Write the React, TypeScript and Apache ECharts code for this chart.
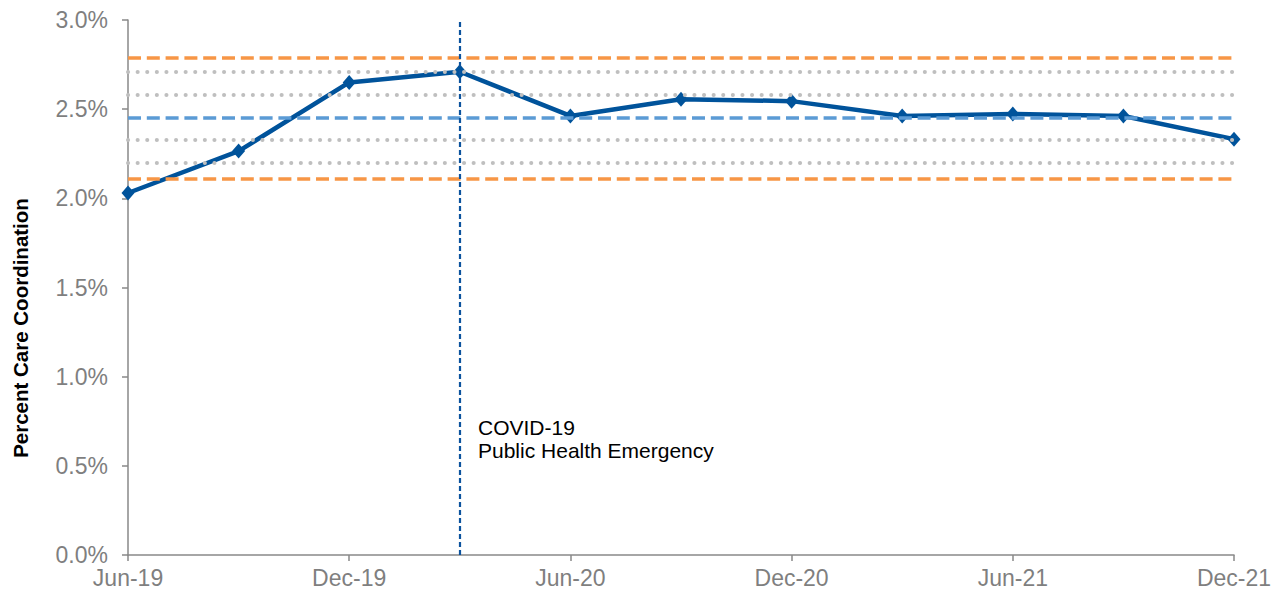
import React, { useEffect, useRef } from "react";
import * as echarts from "echarts";

const categories = ["Jun-19", "Sep-19", "Dec-19", "Mar-20", "Jun-20", "Sep-20", "Dec-20", "Mar-21", "Jun-21", "Sep-21", "Dec-21"];
const careCoordination = [2.03, 2.265, 2.65, 2.71, 2.462, 2.556, 2.545, 2.462, 2.473, 2.462, 2.332];
const controlLimits = [2.789, 2.113];
const meanLine = [2.453];
const sigmaLines = [2.709, 2.576, 2.326, 2.197];
const eventCategory = "Mar-20";
const eventLabel = "COVID-19\nPublic Health Emergency";
const yAxisName = "Percent Care Coordination";

export default function App() {
  const ref = useRef<HTMLDivElement>(null);
  useEffect(() => {
    if (!ref.current) return;
    const chart = echarts.init(ref.current, null, { renderer: "svg" });
    const font = "'Liberation Sans', Arial, sans-serif";
    const hLine = (v: number, color: string, type: any, width: number, cap: string) => ({
      yAxis: v,
      lineStyle: { color, type, width, cap },
    });
    chart.setOption({
      animation: false,
      grid: { left: 128, right: 48, top: 20, bottom: 42 },
      xAxis: {
        type: "category",
        data: categories,
        boundaryGap: false,
        axisLine: { lineStyle: { color: "#898989", width: 1.5 } },
        axisTick: { show: true, interval: 1, length: 6, lineStyle: { color: "#898989", width: 1.5 } },
        axisLabel: { interval: 1, color: "#7f7f7f", fontSize: 23, fontFamily: font, margin: 11 },
        splitLine: { show: false },
      },
      yAxis: {
        type: "value",
        min: 0,
        max: 3,
        interval: 0.5,
        axisLine: { show: true, lineStyle: { color: "#898989", width: 1.5 } },
        axisTick: { show: true, length: 6, lineStyle: { color: "#898989", width: 1.5 } },
        axisLabel: {
          color: "#7f7f7f",
          fontSize: 23,
          fontFamily: font,
          margin: 20,
          formatter: (v: number) => v.toFixed(1) + "%",
        },
        splitLine: { show: false },
      },
      graphic: [
        {
          type: "text",
          x: 20,
          y: 328,
          rotation: Math.PI / 2,
          style: {
            text: yAxisName,
            fill: "#000",
            font: "bold 20.5px " + font,
            textAlign: "center",
            textVerticalAlign: "middle",
          },
        },
        {
          type: "text",
          left: 478,
          top: 416,
          style: {
            text: eventLabel,
            fill: "#000",
            font: "21px " + font,
            lineHeight: 23,
          },
        },
      ],
      series: [
        {
          type: "line",
          data: [],
          z: 1,
          markLine: {
            silent: true,
            symbol: "none",
            label: { show: false },
            data: [
              ...sigmaLines.map((v) => hLine(v, "#bfbfbf", [0.1, 9.5], 4, "round")),
              ...controlLimits.map((v) => hLine(v, "#f79646", [13, 5.8], 3.5, "butt")),
              ...meanLine.map((v) => hLine(v, "#5b9bd5", [13, 5.8], 3.5, "butt")),
              {
                xAxis: eventCategory,
                lineStyle: { color: "#0b539e", type: [5, 3], width: 2.2 },
              },
            ],
          },
        },
        {
          type: "line",
          data: careCoordination,
          z: 3,
          symbol: "diamond",
          symbolSize: [13, 15],
          lineStyle: { color: "#00539b", width: 4.5 },
          itemStyle: { color: "#00539b" },
        },
      ],
    });
    return () => chart.dispose();
  }, []);
  return <div ref={ref} style={{ position: "absolute", left: 0, top: 0, width: 1282, height: 597 }} />;
}
